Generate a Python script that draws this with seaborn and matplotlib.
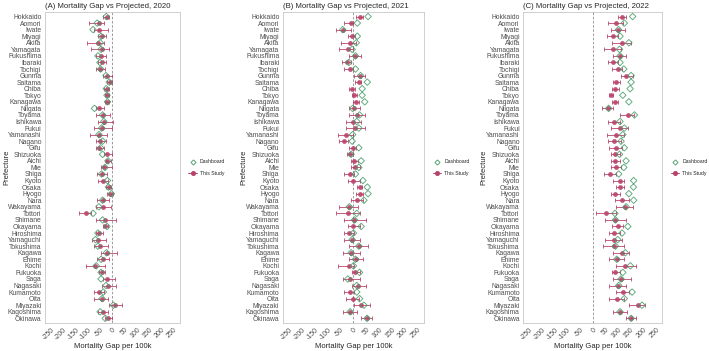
import numpy as np
import pandas as pd
import matplotlib
matplotlib.use("Agg")
import matplotlib.pyplot as plt
from matplotlib.lines import Line2D
import seaborn as sns

# ------------------------------------------------------------
# Données
# ------------------------------------------------------------
prefectures = ["Hokkaido", "Aomori", "Iwate", "Miyagi", "Akita", "Yamagata",
               "Fukushima", "Ibaraki", "Tochigi", "Gunma", "Saitama", "Chiba",
               "Tokyo", "Kanagawa", "Niigata", "Toyama", "Ishikawa", "Fukui",
               "Yamanashi", "Nagano", "Gifu", "Shizuoka", "Aichi", "Mie",
               "Shiga", "Kyoto", "Osaka", "Hyogo", "Nara", "Wakayama",
               "Tottori", "Shimane", "Okayama", "Hiroshima", "Yamaguchi",
               "Tokushima", "Kagawa", "Ehime", "Kochi", "Fukuoka", "Saga",
               "Nagasaki", "Kumamoto", "Oita", "Miyazaki", "Kagoshima", "Okinawa"]

# 2020
study_2020 = [-22, -55, -53, -42, -59, -42, -46, -44, -49, -20, -11, -22, -22, -22,
              -53, -40, -33, -42, -53, -49, -55, -20, -20, -33, -44, -37, -13, -9,
              -40, -37, -106, -29, -29, -55, -59, -49, -20, -37, -69, -42, -22,
              -16, -55, -42, 9, -37, -16]
low_2020 = [-38, -96, -75, -59, -102, -86, -66, -59, -67, -40, -20, -33, -30, -29,
            -66, -66, -59, -75, -92, -66, -66, -36, -26, -46, -62, -59, -26, -20,
            -62, -66, -136, -66, -40, -66, -82, -75, -46, -62, -106, -55, -40,
            -42, -73, -73, -13, -59, -29]
high_2020 = [-12, -36, -16, -24, -33, -13, -26, -26, -29, 0, -1, -12, -13, -15,
             -33, -9, 3, 0, -22, -26, -36, 0, -7, 0, -20, -16, -4, 4,
             -13, -4, -88, 16, -16, -40, -26, -16, 20, -13, -29, -29, 9,
             13, -33, -16, 40, -16, 0]
dash_2020 = [-25, -62, -79, -46, -50, -46, -59, -51, -48, -26, -13, -25, -22, -20,
             -73, -40, -35, -44, -55, -40, -48, -40, -18, -30, -44, -20, -16, -4,
             -40, -55, -79, -40, -22, -59, -69, -59, -24, -46, -66, -46, -46,
             -26, -37, -42, 4, -50, -29]

# 2021
study_2021 = [24, -9, -42, -5, -13, -22, 8, -25, -13, 24, 20, -5, 4, 11,
              4, 13, 0, 8, -29, -36, -3, -13, 4, 8, -13, 0, 24, 24,
              13, -18, -22, 4, 0, -16, -5, 20, -9, 11, -18, 8, -13,
              17, -13, 0, 30, -13, 53]
low_2021 = [11, -38, -69, -22, -49, -55, -16, -45, -36, 4, 8, -16, -5, 0,
            -16, -16, -29, -29, -62, -55, -18, -26, -9, -9, -36, -22, 13, 11,
            -9, -55, -69, -36, -22, -36, -36, -16, -42, -18, -62, -5, -42,
            -5, -36, -29, 4, -42, 30]
high_2021 = [37, 0, -9, 8, 11, 0, 30, -9, 0, 44, 30, 7, 13, 21,
             24, 44, 30, 44, 0, -22, 11, 0, 17, 24, 4, 24, 34, 37,
             37, 17, 24, 48, 24, 4, 24, 57, 24, 37, 4, 24, 24,
             50, 4, 21, 63, 13, 74]
dash_2021 = [57, 15, -42, 15, 11, -5, 8, -18, 8, 28, 54, 34, 34, 44,
             -3, 24, 13, 21, -3, -5, 21, -9, 30, 21, 8, 37, 54, 57,
             41, -16, 13, 4, 30, 0, -5, 21, -9, 8, 0, 24, -22,
             13, 13, 24, 41, -13, 53]

# 2022
study_2022 = [116, 92, 102, 79, 115, 82, 108, 82, 99, 132, 92, 90, 73, 88,
              59, 139, 86, 108, 92, 86, 92, 88, 88, 92, 70, 106, 108, 90,
              115, 129, 53, 90, 99, 86, 83, 83, 115, 95, 129, 90, 112,
              99, 119, 95, 178, 108, 152]
low_2022 = [99, 59, 73, 57, 77, 46, 79, 59, 77, 112, 82, 77, 63, 77,
            37, 106, 59, 73, 57, 59, 66, 73, 73, 73, 46, 82, 92, 73,
            88, 92, 11, 50, 77, 63, 50, 42, 82, 66, 92, 77, 82,
            66, 92, 63, 145, 82, 132]
high_2022 = [132, 119, 129, 99, 152, 112, 132, 99, 116, 158, 106, 103, 82, 102,
             82, 165, 106, 139, 125, 112, 116, 108, 106, 112, 92, 125, 125, 108,
             143, 161, 92, 132, 119, 108, 116, 125, 145, 125, 172, 106, 152,
             132, 143, 125, 205, 135, 172]
dash_2022 = [158, 125, 102, 108, 143, 106, 108, 108, 123, 152, 152, 148, 119, 143,
             63, 165, 108, 125, 119, 112, 125, 106, 132, 123, 103, 162, 161, 143,
             162, 132, 88, 90, 139, 116, 99, 90, 129, 95, 149, 119, 112,
             103, 156, 125, 195, 108, 152]

years = [2020, 2021, 2022]
panel_letters = ["A", "B", "C"]
xticks = [-250, -200, -150, -100, -50, 0, 50, 100, 150, 200, 250]

series = {
    2020: (study_2020, low_2020, high_2020, dash_2020),
    2021: (study_2021, low_2021, high_2021, dash_2021),
    2022: (study_2022, low_2022, high_2022, dash_2022),
}

COL_STUDY = "#B8436A"
COL_DASH = "#3E9A62"

# ------------------------------------------------------------
# Style
# ------------------------------------------------------------
sns.set_style("white")
plt.rcParams["font.family"] = ["Liberation Sans", "DejaVu Sans"]
plt.rcParams["axes.unicode_minus"] = False

fig = plt.figure(figsize=(7.09, 3.51), dpi=100)

bottom, height = 0.080, 0.886
lefts = [0.0635, 0.399, 0.738]
widths = [0.190, 0.199, 0.196]

for i, yr in enumerate(years):
    ts, lo, hi, db = series[yr]
    df = pd.DataFrame({"Prefecture": prefectures, "study": ts, "low": lo,
                       "high": hi, "dash": db})
    df["pos"] = np.arange(len(df))

    ax = fig.add_axes([lefts[i], bottom, widths[i], height])

    ax.axvline(0, color="#8c8c8c", lw=0.6, ls=(0, (3, 2)), zorder=1)

    # intervalles
    ax.errorbar(df["study"], df["pos"],
                xerr=[df["study"] - df["low"], df["high"] - df["study"]],
                fmt="none", ecolor=COL_STUDY, elinewidth=0.7, capsize=1.7,
                capthick=0.7, alpha=0.85, zorder=2)
    sns.scatterplot(data=df, x="study", y="pos", ax=ax, color=COL_STUDY,
                    s=12, linewidth=0, alpha=0.9, zorder=3, legend=False)
    sns.scatterplot(data=df, x="dash", y="pos", ax=ax, marker="D",
                    facecolor="none", edgecolor=COL_DASH, s=11, linewidth=0.65,
                    alpha=0.85, zorder=4, legend=False)

    ax.set_xlim(-275, 275)
    ax.set_ylim(len(prefectures) - 1 + 0.7, -0.7)
    ax.set_yticks(df["pos"])
    ax.set_yticklabels(prefectures, fontsize=4.9, color="#4d4d4d")
    ax.set_xticks(xticks)
    ax.set_xticklabels([str(v) for v in xticks], fontsize=5.0, color="#4d4d4d",
                       rotation=45, ha="right", rotation_mode="anchor")
    ax.tick_params(axis="both", length=1.5, width=0.4, color="#4d4d4d", pad=1)

    for sp in ax.spines.values():
        sp.set_color("#c8c8c8")
        sp.set_linewidth(0.6)

    ax.set_xlabel("Mortality Gap per 100k", fontsize=5.5, labelpad=1.5)
    ax.set_ylabel("Prefecture", fontsize=5.5)
    ax.yaxis.set_label_coords(-0.255, 0.5)
    ax.set_title(f"({panel_letters[i]}) Mortality Gap vs Projected, {yr}",
                 fontsize=5.6, loc="left", pad=2.5)

    handles = [
        Line2D([], [], marker="D", color=COL_DASH, markerfacecolor="none",
               markersize=2.6, markeredgewidth=0.6, ls="none"),
        Line2D([], [], marker="o", color=COL_STUDY, markersize=2.6, lw=0.7),
    ]
    ax.legend(handles, ["Dashboard", "This Study"], loc="center left",
              bbox_to_anchor=(1.03, 0.5), frameon=False, fontsize=3.7,
              handlelength=1.6, handletextpad=0.6, labelspacing=1.2)

fig.savefig("out.png", dpi=100)
